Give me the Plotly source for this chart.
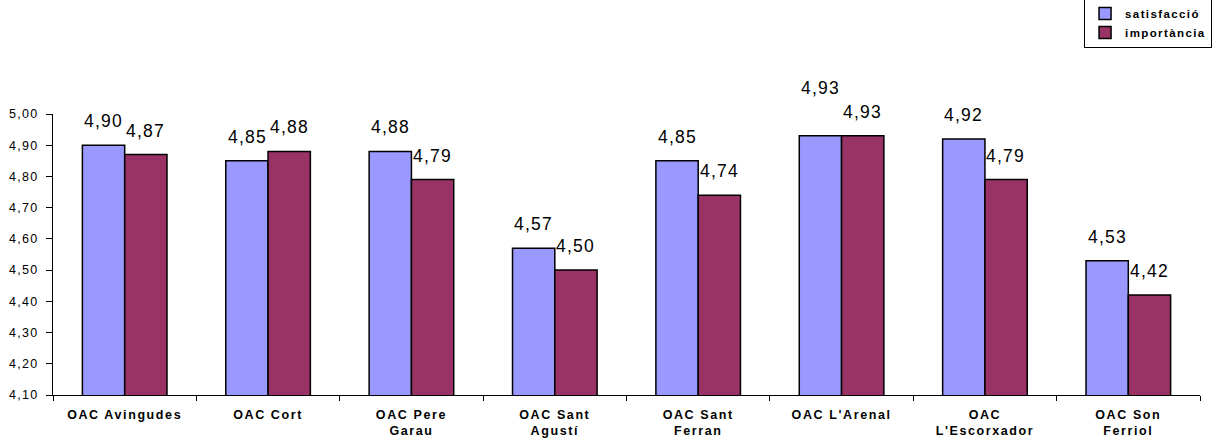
import plotly.graph_objects as go

categories = ["OAC Avingudes", "OAC Cort", "OAC Pere<br>Garau", "OAC Sant<br>Agustí",
              "OAC Sant<br>Ferran", "OAC L'Arenal", "OAC<br>L'Escorxador", "OAC Son<br>Ferriol"]
satisfaccio = [4.90, 4.85, 4.88, 4.57, 4.85, 4.93, 4.92, 4.53]
importancia = [4.87, 4.88, 4.79, 4.50, 4.74, 4.93, 4.79, 4.42]
series_names = ["satisfacció", "importància"]
y_ticks = [4.10, 4.20, 4.30, 4.40, 4.50, 4.60, 4.70, 4.80, 4.90, 5.00]

BLUE = "#9999FF"
RED = "#993366"
FONT = "Liberation Sans, Arial, sans-serif"


def spaced(t, px=1.6):
    parts = t.split("<br>")
    return "<br>".join(f'<span style="letter-spacing:{px}px">{p}</span>' for p in parts)


def fmt(v):
    return f"{v:.2f}".replace(".", ",")


xlabels = [spaced(c) for c in categories]

fig = go.Figure()
fig.add_trace(go.Bar(x=xlabels, y=satisfaccio, name="<b>" + spaced(series_names[0], 1.4) + "</b>",
                     marker=dict(color=BLUE, line=dict(color="black", width=1.5))))
fig.add_trace(go.Bar(x=xlabels, y=importancia, name="<b>" + spaced(series_names[1], 1.4) + "</b>",
                     marker=dict(color=RED, line=dict(color="black", width=1.5))))

annotations = []
lab_font = dict(size=17.5, color="black", family=FONT)
for i, (s, m) in enumerate(zip(satisfaccio, importancia)):
    lift = 48 if abs(s - m) < 0.02 else 24
    annotations.append(dict(x=xlabels[i], y=s, text=spaced(fmt(s), 1.2), showarrow=False,
                            xshift=-21, yshift=lift, font=lab_font))
    annotations.append(dict(x=xlabels[i], y=m, text=spaced(fmt(m), 1.2), showarrow=False,
                            xshift=21, yshift=24, font=lab_font))

fig.update_layout(
    width=1212, height=440,
    margin=dict(l=53, r=12, t=114, b=45, autoexpand=False),
    paper_bgcolor="white", plot_bgcolor="white",
    barmode="group", bargap=0.41, bargroupgap=0,
    font=dict(family=FONT, color="black"),
    annotations=annotations,
    showlegend=True,
    legend=dict(x=1.0105, xanchor="right", y=1.4128, yanchor="top",
                bgcolor="white", bordercolor="black", borderwidth=1,
                font=dict(size=11.5, family=FONT, weight="bold", color="black"),
                itemwidth=30, tracegroupgap=0),
)
fig.update_xaxes(showline=True, linecolor="black", linewidth=1, showgrid=False,
                 ticks="outside", ticklen=5, tickcolor="black", tickson="boundaries",
                 ticklabelstandoff=8, automargin=False,
                 tickfont=dict(size=12.5, family=FONT, weight="bold", color="black"),
                 tickangle=0)
fig.update_yaxes(range=[4.1, 5.0], tickvals=y_ticks,
                 ticktext=[spaced(fmt(v), 1.3) for v in y_ticks],
                 showline=True, linecolor="black", linewidth=1, showgrid=False, zeroline=False,
                 ticks="outside", ticklen=6, tickcolor="black", ticklabelstandoff=5,
                 automargin=False,
                 tickfont=dict(size=12.5, family=FONT, color="black"))

fig.write_html("out.html")
